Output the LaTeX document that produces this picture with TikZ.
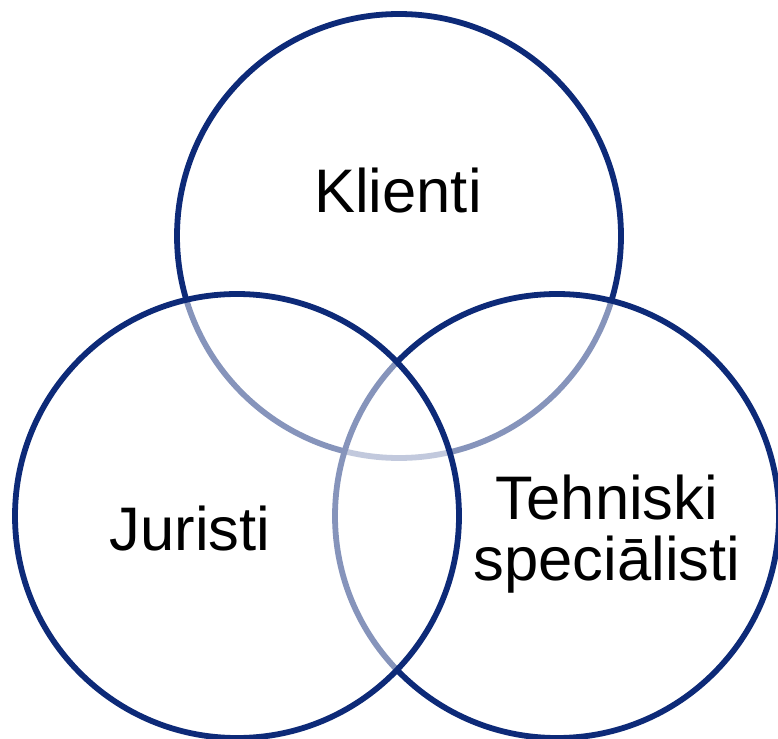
\documentclass[tikz,border=0pt]{standalone}
\usepackage{fontspec}
\setmainfont{Liberation Sans}
\definecolor{navy}{HTML}{0D2A78}
\begin{document}
\begin{tikzpicture}[x=1pt,y=-1pt,
  venn/.style={draw=navy, line width=5.8pt, fill=white, fill opacity=0.5, draw opacity=1},
  lbl/.style={inner sep=0pt, text=black, font=\fontsize{61.5}{61}\selectfont, text opacity=1}]
\useasboundingbox (0,0) rectangle (778,738);
\draw[venn] (399,236) circle[radius=222];
\draw[venn] (557,516) circle[radius=222];
\draw[venn] (237,516) circle[radius=222];
\node[lbl, anchor=base] (klienti) at (398,212) {Klienti};
\node[lbl, anchor=base] (juristi) at (190,550) {Juristi};
\node[lbl, align=center, anchor=center] (teh) at (607,534) {Tehniski\\speciālisti};
\end{tikzpicture}
\end{document}
